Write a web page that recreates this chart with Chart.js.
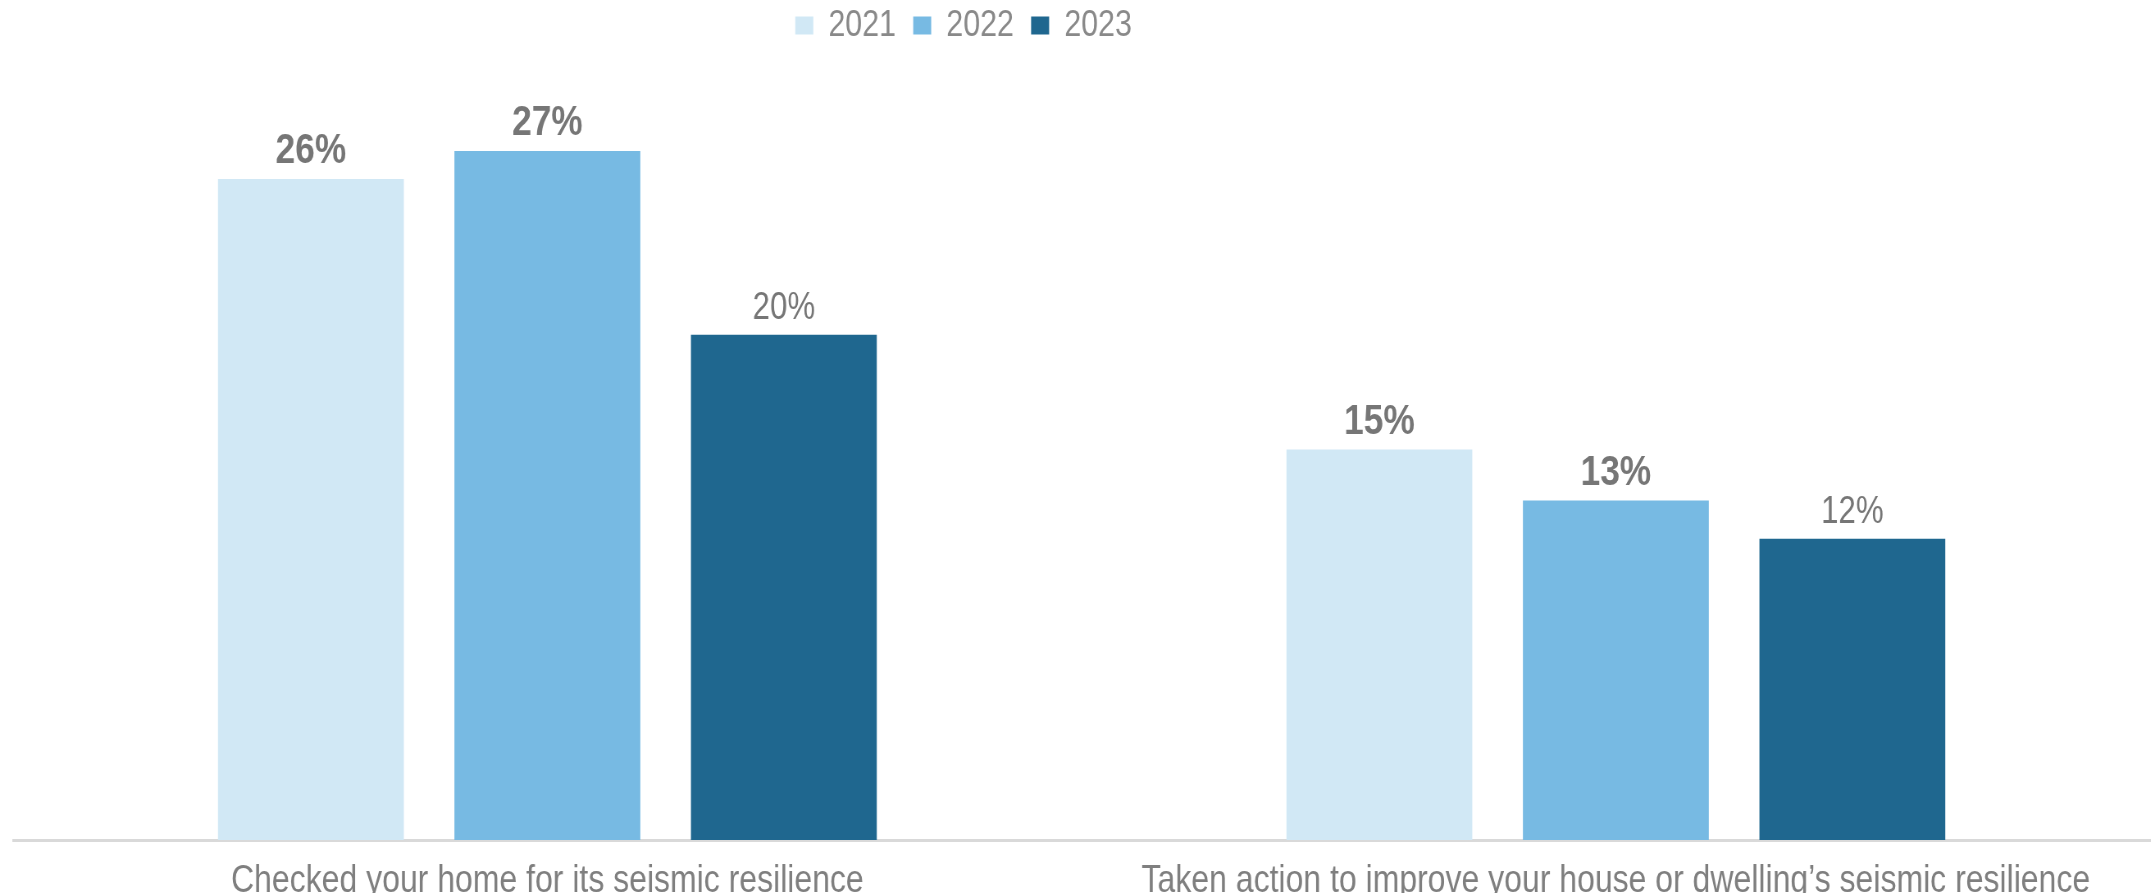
<!DOCTYPE html>
<html>
<head>
<meta charset="utf-8">
<script src="https://cdn.jsdelivr.net/npm/chart.js@4.4.1/dist/chart.umd.min.js"></script>
<style>
  html, body { margin: 0; padding: 0; background: #ffffff; overflow: hidden; width: 2155px; height: 893px; }
  /* the reference uses a narrow typeface; emulate it by squeezing the whole drawing horizontally */
  #wrap { position: absolute; left: 0; top: 0; width: 2628px; height: 893px; transform: scaleX(0.82002); transform-origin: 0 0; }
</style>
</head>
<body>
<div id="wrap"><canvas id="c"></canvas></div>
<script>
const categories = [
  "Checked your home for its seismic resilience",
  "Taken action to improve your house or dwelling\u2019s seismic resilience"
];
const seriesNames = ["2021", "2022", "2023"];
const values2021 = [25.9, 15.3];
const values2022 = [27.0, 13.3];
const values2023 = [19.8, 11.8];
const seriesColors = ["#D1E8F5", "#77BAE3", "#1F678F"];
const boldLabels = [true, true, false];

const FONT = "'Liberation Sans', Arial, sans-serif";

const labelPlugin = {
  id: 'barLabels',
  afterDatasetsDraw(chart) {
    const ctx = chart.ctx;
    ctx.save();
    chart.data.datasets.forEach((ds, di) => {
      const meta = chart.getDatasetMeta(di);
      meta.data.forEach((bar, i) => {
        const v = ds.data[i];
        ctx.font = (boldLabels[di] ? 'bold 43px ' : '38px ') + FONT;
        ctx.fillStyle = '#767676';
        ctx.textAlign = 'center';
        ctx.textBaseline = 'alphabetic';
        ctx.fillText(Math.round(v) + '%', bar.x, bar.y - 16);
      });
    });
    ctx.restore();
  }
};

// the reference legend sits left of the centre; nudge the legend box after layout
const legendShift = {
  id: 'legendShift',
  afterLayout(chart) {
    const lg = chart.legend;
    if (lg) { lg.left -= 144; lg.right -= 144; }
  }
};

const datasets = [values2021, values2022, values2023].map((vals, i) => ({
  label: seriesNames[i],
  data: vals,
  backgroundColor: seriesColors[i],
  borderWidth: 0,
  categoryPercentage: 0.664,
  barPercentage: 0.786
}));

new Chart(document.getElementById('c'), {
  type: 'bar',
  data: { labels: categories, datasets },
  plugins: [labelPlugin, legendShift],
  options: {
    responsive: true,
    maintainAspectRatio: false,
    animation: false,
    layout: { padding: { left: 16, right: 6, top: -14, bottom: -30 } },
    plugins: {
      tooltip: { enabled: false },
      legend: {
        position: 'top',
        align: 'center',
        labels: {
          boxWidth: 22,
          boxHeight: 18,
          padding: 21,
          color: '#898989',
          font: { family: FONT, size: 37 }
        }
      }
    },
    scales: {
      x: {
        grid: { display: false, drawTicks: false },
        border: { display: true, color: '#D9D9D9', width: 3 },
        ticks: {
          color: '#7F7F7F',
          padding: 22,
          maxRotation: 0,
          autoSkip: false,
          font: { family: FONT, size: 39, lineHeight: 1.0 }
        }
      },
      y: {
        display: false,
        min: 0,
        max: 30.8,
        grid: { display: false }
      }
    }
  }
});
</script>
</body>
</html>
